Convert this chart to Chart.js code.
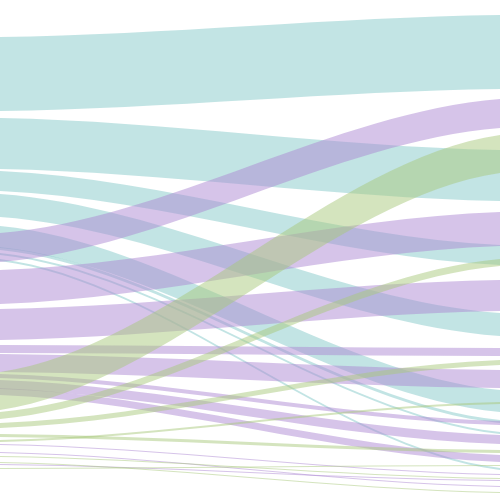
<!DOCTYPE html>
<html>
<head>
<meta charset="utf-8">
<script src="https://cdn.jsdelivr.net/npm/chart.js@4/dist/chart.umd.min.js"></script>
<style>
  html, body { margin: 0; padding: 0; background: #fff; }
  #wrap { width: 500px; height: 500px; }
</style>
</head>
<body>
<div id="wrap"><canvas id="flows"></canvas></div>
<script>
// flow groups (colour key) and where each flow sits on the left / right edge
var flowGroup = ['teal', 'teal', 'teal', 'teal', 'teal', 'teal', 'teal', 'teal',
                 'purple', 'purple', 'purple', 'purple', 'purple', 'purple', 'purple', 'purple', 'purple', 'purple', 'purple',
                 'green', 'green', 'green', 'green', 'green', 'green', 'green', 'green'];
var flowFrom  = [37, 118, 171, 194, 226, 247, 253, 259,
                 233, 270, 309, 345, 354, 374, 380, 388, 444, 452, 464,
                 372, 412, 423, 434, 440, 456, 462, 468];
var flowTo    = [15, 150, 245, 313, 390, 420, 432, 468,
                 99, 212, 280, 348, 370, 421, 435, 455, 474, 486, 480,
                 135, 259, 360, 450, 402, 478, 492, 465];
var flowValue = [74, 51, 20, 23, 22, 3, 2, 2,
                 29, 34, 31, 8, 18, 4, 9, 7, 1, 1, 1,
                 38, 7, 5, 3, 2, 1, 1, 1];

var groupColors = {
    teal: 'rgba(133, 201, 201, 0.5)',
    purple: 'rgba(173, 137, 211, 0.5)',
    green: 'rgba(169, 201, 125, 0.5)'
};

var flowPlugin = {
    id: 'flows',
    beforeDatasetsDraw: function(chart) {
        var ctx = chart.ctx;
        var xs = chart.scales.x, ys = chart.scales.y;
        var area = chart.chartArea;
        var x0 = xs.getPixelForValue(0), x1 = xs.getPixelForValue(1);
        var c1 = xs.getPixelForValue(1 / 3), c2 = xs.getPixelForValue(2 / 3);
        var k = 0.1; // how much slope the flows keep at the edges
        ctx.save();
        ctx.beginPath();
        ctx.rect(area.left, area.top, area.right - area.left, area.bottom - area.top);
        ctx.clip();
        for (var i = 0; i < flowValue.length; i++) {
            var a = flowFrom[i], b = flowTo[i], w = flowValue[i];
            var d = b - a;
            var ya = ys.getPixelForValue(a), yb = ys.getPixelForValue(b);
            var ya1 = ys.getPixelForValue(a + k * d), yb1 = ys.getPixelForValue(b - k * d);
            var h = ys.getPixelForValue(a + w) - ya;
            ctx.beginPath();
            ctx.moveTo(x0, ya);
            ctx.bezierCurveTo(c1, ya1, c2, yb1, x1, yb);
            ctx.lineTo(x1, yb + h);
            ctx.bezierCurveTo(c2, yb1 + h, c1, ya1 + h, x0, ya + h);
            ctx.closePath();
            ctx.fillStyle = groupColors[flowGroup[i]];
            ctx.fill();
        }
        ctx.restore();
    }
};

var graph = document.getElementById('flows').getContext('2d');
var myChart = new Chart(graph, {
    type: 'scatter',
    data: { datasets: [] },
    options: {
        responsive: true,
        maintainAspectRatio: false,
        animation: false,
        layout: { padding: 0 },
        plugins: { legend: { display: false }, tooltip: { enabled: false } },
        scales: {
            x: { type: 'linear', min: 0, max: 1, display: false },
            y: { type: 'linear', min: 0, max: 500, reverse: true, display: false }
        }
    },
    plugins: [flowPlugin]
});
</script>
</body>
</html>
